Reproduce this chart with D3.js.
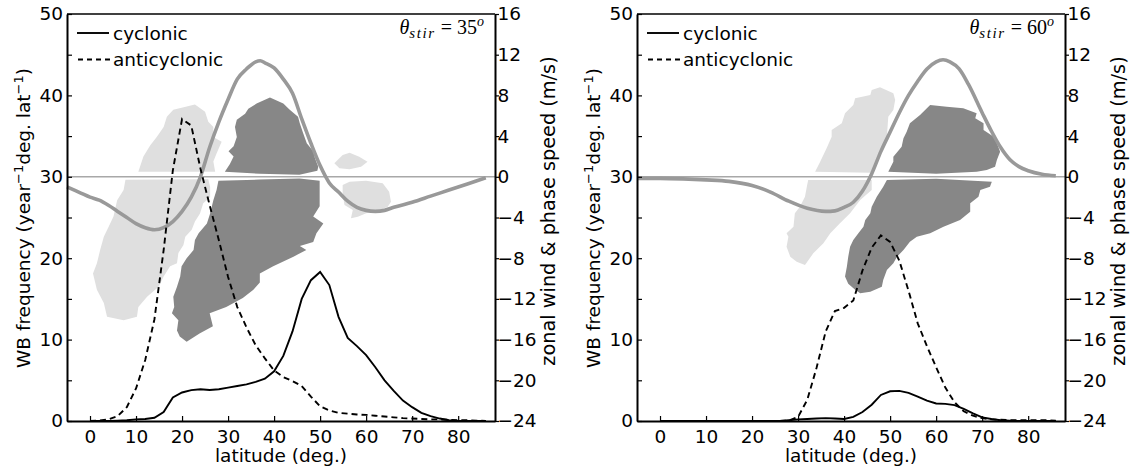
<!DOCTYPE html>
<html>
<head>
<meta charset="utf-8">
<script src="https://cdn.jsdelivr.net/npm/d3@7"></script>
<style>
  body { margin: 0; background: #fff; }
  svg { display: block; }
  text { font-family: "DejaVu Sans", sans-serif; }
</style>
</head>
<body>
<svg id="chart" width="1132" height="472"></svg>
<script>
// ---------------------------------------------------------------
// Latitude grid of the wave-breaking frequency profiles (deg.)
const latWB = [0, 2, 4, 6, 8, 10, 12, 14, 16, 18, 20, 22, 24, 26, 28, 30, 32, 34, 36, 38, 40, 42,
               44, 46, 48, 50, 52, 54, 56, 58, 60, 62, 64, 66, 68, 70, 72, 74, 76, 78, 80, 82, 84, 86];

// theta_stir = 35 : WB frequency (year^-1 deg. lat^-1)
const cyclonic35 = [0, 0, 0, 0.05, 0.1, 0.2, 0.25, 0.4, 1.1, 2.9, 3.5, 3.8, 3.9, 3.8, 3.9, 4.1, 4.3, 4.5, 4.8, 5.2, 6.1, 8.0,
                    11.0, 15.0, 17.3, 18.3, 16.7, 12.8, 10.2, 9.2, 8.1, 6.6, 5.0, 3.7, 2.5, 1.7, 1.0, 0.6, 0.3, 0.1, 0, 0, 0, 0];
const anticyclonic35 = [0, 0.05, 0.2, 0.6, 1.7, 4.0, 7.5, 12.5, 21.0, 30.8, 37.1, 36.3, 31.0, 26.5, 22.2, 17.7, 14.0, 11.5, 9.3, 7.7, 6.2, 5.4,
                        4.9, 4.3, 3.0, 1.8, 1.3, 1.0, 0.9, 0.8, 0.75, 0.65, 0.55, 0.45, 0.35, 0.3, 0.25, 0.2, 0.2, 0.15, 0.1, 0.1, 0.05, 0];

// theta_stir = 60 : WB frequency
const cyclonic60 = [0, 0, 0, 0, 0, 0, 0, 0, 0, 0, 0, 0, 0, 0, 0.1, 0.2, 0.25, 0.3, 0.35, 0.3, 0.25, 0.5,
                    1.1, 2.0, 3.2, 3.65, 3.7, 3.45, 3.0, 2.5, 2.15, 2.1, 1.95, 1.5, 0.95, 0.45, 0.25, 0.1, 0.05, 0, 0, 0, 0, 0];
const anticyclonic60 = [0, 0, 0, 0, 0, 0, 0, 0, 0, 0, 0, 0, 0, 0, 0.05, 0.5, 2.6, 6.5, 11.0, 13.5, 13.9, 14.8,
                        18.5, 21.3, 22.8, 22.0, 19.7, 16.0, 12.0, 9.2, 6.6, 4.1, 2.3, 1.2, 0.65, 0.35, 0.2, 0.15, 0.1, 0.1, 0.1, 0.1, 0.1, 0.05];

// Zonal-mean zonal wind (m/s)
const windLat35 = [-5, -2, 0, 2, 4, 6, 8, 10, 12, 14, 16, 18, 20, 22, 24, 26, 28, 30, 32, 34, 36, 37, 38, 40, 42,
                   44, 46, 48, 50, 52, 54, 56, 58, 60, 62, 64, 66, 70, 74, 78, 82, 86];
const wind35 = [-1.0, -1.6, -2.0, -2.3, -2.8, -3.4, -4.0, -4.6, -5.0, -5.2, -5.0, -4.4, -3.4, -2.0, 0.0, 2.9, 5.4, 7.6, 9.6, 10.6, 11.3, 11.4, 11.2, 10.7, 9.6,
                8.2, 5.7, 3.3, 1.1, -0.6, -1.5, -2.4, -3.0, -3.3, -3.4, -3.3, -3.0, -2.5, -1.9, -1.3, -0.7, -0.1];
const windLat60 = [-5, 0, 5, 10, 15, 20, 24, 28, 32, 36, 38, 40, 42, 44, 46, 48, 50, 52, 54, 56, 58, 60, 61.5,
                   63, 65, 67, 70, 72, 74, 76, 78, 80, 83, 86];
const wind60 = [-0.15, -0.15, -0.2, -0.3, -0.45, -0.85, -1.5, -2.4, -3.1, -3.4, -3.35, -3.0, -2.5, -1.4, 0.3, 2.5, 4.4, 6.3, 8.0, 9.4, 10.6, 11.3, 11.5,
                11.3, 10.6, 9.1, 6.3, 4.5, 2.9, 1.7, 1.0, 0.6, 0.25, 0.1];

// Phase-speed / latitude regions of wave breaking: [latitude, phase speed (m/s)]
const anticycUpper35 = [[10.5, 0.5], [11.6, 2.0], [13.1, 3.1], [14.5, 3.9], [16.0, 4.9], [16.7, 5.9], [18.1, 6.6], [22.8, 7.1], [25.0, 6.4],
  [25.7, 5.4], [26.8, 4.9], [26.8, 3.9], [28.6, 3.45], [27.5, 2.3], [26.8, 1.5], [27.2, 0.5]];
const anticycLower35 = [[7.7, -0.3], [7.3, -1.3], [5.9, -2.3], [5.1, -3.9], [4.05, -4.9], [3.0, -5.9], [2.2, -7.2], [1.5, -8.5], [0.65, -9.5],
  [1.5, -11.1], [3.0, -12.4], [3.7, -13.75], [7.3, -14.1], [10.2, -13.75], [10.5, -12.8], [12.4, -11.8], [14.9, -10.8], [16.0, -9.8],
  [17.4, -8.8], [18.9, -8.5], [19.2, -7.5], [20.3, -6.7], [20.7, -5.9], [22.1, -5.2], [22.8, -4.4], [23.9, -3.6], [24.6, -2.6],
  [26.1, -2.0], [26.1, -1.0], [25.7, -0.25]];
const anticycSmallUpper35 = [[53.1, 1.33], [54.9, 2.14], [56.4, 2.37], [58.5, 1.98], [60.3, 1.48], [58.9, 0.99], [56.4, 0.74], [54.2, 0.84]];
const anticycSmallLower35 = [[54.9, -0.81], [56.4, -0.48], [60.0, -0.38], [63.6, -0.64], [65.0, -1.46], [65.4, -2.45], [64.7, -2.94],
  [62.2, -3.43], [60.0, -3.59], [58.2, -3.92], [56.7, -4.08], [57.1, -3.26], [55.3, -2.77], [54.9, -1.79]];
const cycUpper35 = [[29.3, 0.5], [30.4, 1.25], [31.2, 2.0], [30.1, 2.5], [31.2, 3.0], [31.9, 3.9], [31.5, 4.9], [31.9, 5.6], [33.7, 6.2],
  [34.4, 6.7], [36.2, 7.2], [39.1, 7.8], [42.0, 7.2], [43.4, 6.6], [45.2, 5.9], [45.6, 5.25], [46.3, 4.3], [47.1, 3.3], [48.5, 2.5],
  [48.9, 1.8], [49.6, 1.0], [49.4, 0.6], [45.5, 0.2], [36.9, 0.3]];
const cycLower35 = [[27.9, -0.4], [27.5, -1.3], [26.8, -2.3], [26.1, -3.6], [25.4, -4.6], [23.6, -5.55], [22.8, -6.2], [22.5, -7.2],
  [21.0, -8.0], [19.9, -8.8], [19.6, -9.8], [18.9, -10.8], [18.1, -11.8], [18.3, -12.8], [17.8, -13.4], [19.2, -14.1], [18.9, -15.1],
  [19.5, -15.7], [21.0, -16.2], [23.8, -15.4], [26.7, -14.7], [26.0, -13.4], [29.6, -12.8], [33.2, -11.9], [35.5, -11.1], [36.9, -10.4],
  [36.9, -9.5], [39.8, -8.8], [44.2, -7.85], [47.0, -7.2], [45.6, -6.8], [48.5, -6.4], [49.2, -5.55], [50.7, -4.6], [48.5, -3.9],
  [49.9, -2.9], [49.9, -1.3], [49.9, -0.4], [45.5, -0.17], [36.9, -0.27]];

const anticycUpper60 = [[33.7, 0.5], [34.8, 1.48], [36.2, 2.8], [37.3, 3.94], [37.3, 4.6], [39.5, 5.26], [40.2, 6.24], [42.0, 7.06],
  [42.4, 7.71], [45.7, 8.04], [46.0, 8.53], [47.8, 8.8], [50.7, 8.2], [51.1, 7.55], [50.7, 6.57], [49.6, 5.9], [49.3, 3.94], [48.5, 2.96],
  [47.8, 1.98], [46.4, 0.99], [45.7, 0.4], [40.0, 0.45]];
const anticycLower60 = [[32.2, -0.31], [46.0, -0.31], [46.0, -1.3], [43.5, -2.28], [41.3, -3.59], [39.1, -4.57], [37.0, -5.55],
  [35.5, -6.54], [33.3, -7.52], [31.5, -8.67], [29.7, -8.34], [28.3, -7.85], [27.5, -6.87], [27.9, -5.89], [27.5, -5.55], [29.0, -4.9],
  [29.3, -3.59], [30.4, -2.94], [31.5, -1.96], [31.9, -0.97]];
const cycUpper60 = [[49.6, 0.5], [50.7, 1.48], [50.7, 1.98], [52.5, 2.96], [52.9, 3.78], [53.6, 4.43], [54.3, 5.26], [56.5, 6.07],
  [58.7, 7.06], [62.3, 6.89], [65.9, 6.73], [68.8, 6.24], [68.5, 5.75], [70.3, 5.26], [70.3, 4.6], [72.5, 3.94], [73.2, 3.29],
  [73.9, 2.47], [73.2, 1.65], [72.8, 0.99], [71.0, 0.67], [68.8, 0.5], [60.0, 0.3]];
const cycLower60 = [[49.3, -0.31], [60.0, -0.2], [72.1, -0.48], [71.7, -0.97], [69.6, -1.3], [69.2, -1.96], [67.4, -2.6], [67.4, -3.43],
  [65.2, -4.25], [61.6, -4.9], [58.7, -5.55], [55.8, -5.89], [54.3, -6.38], [52.9, -7.19], [51.5, -7.85], [50.7, -8.5], [49.3, -9.16],
  [48.5, -10.14], [48.2, -10.8], [45.7, -11.3], [43.5, -11.45], [42.4, -11.1], [40.9, -10.5], [40.2, -9.8], [40.6, -8.84],
  [40.9, -7.85], [41.3, -6.87], [42.0, -6.2], [43.1, -5.55], [44.2, -4.9], [44.6, -4.25], [45.7, -3.59], [46.0, -2.94],
  [47.1, -1.96], [48.5, -0.97]];

// Axis ticks
const xTicks = [0, 10, 20, 30, 40, 50, 60, 70, 80];
const leftTicks = [0, 5, 10, 15, 20, 25, 30, 35, 40, 45, 50];
const rightTicks = [-24, -20, -16, -12, -8, -4, 0, 4, 8, 12, 16];
const legendLabels = ["cyclonic", "anticyclonic"];

// ---------------------------------------------------------------
const panels = [
  { theta: 35, left: 67, cyc: cyclonic35, anti: anticyclonic35, windLat: windLat35, wind: wind35,
    light: [anticycUpper35, anticycLower35, anticycSmallUpper35, anticycSmallLower35], dark: [cycUpper35, cycLower35] },
  { theta: 60, left: 637, cyc: cyclonic60, anti: anticyclonic60, windLat: windLat60, wind: wind60,
    light: [anticycUpper60, anticycLower60], dark: [cycUpper60, cycLower60] }
];

const W = 428, TOP = 14, BOTTOM = 421;
const FS = "18.5px";
const svg = d3.select("#chart");

panels.forEach(p => {
  const x = d3.scaleLinear().domain([-5, 88]).range([p.left, p.left + W]);
  const yL = d3.scaleLinear().domain([0, 50]).range([BOTTOM, TOP]);
  const yR = d3.scaleLinear().domain([-24, 16]).range([BOTTOM, TOP]);
  const right = p.left + W;
  const g = svg.append("g");

  // shaded regions (phase speed vs latitude)
  const shape = d3.line().x(d => x(d[0])).y(d => yR(d[1]));
  p.light.forEach(poly => g.append("path").attr("d", shape(poly) + "Z").attr("fill", "#dfdfdf"));
  p.dark.forEach(poly => g.append("path").attr("d", shape(poly) + "Z").attr("fill", "#878787"));

  // zero phase speed reference
  g.append("line").attr("x1", p.left).attr("x2", right).attr("y1", yR(0)).attr("y2", yR(0))
    .attr("stroke", "#a8a8a8").attr("stroke-width", 1.4);

  // zonal wind
  const windPts = p.windLat.map((la, i) => [la, p.wind[i]]);
  g.append("path").attr("d", d3.line().x(d => x(d[0])).y(d => yR(d[1])).curve(d3.curveMonotoneX)(windPts))
    .attr("fill", "none").attr("stroke", "#999999").attr("stroke-width", 3.6).attr("stroke-linejoin", "round");

  // WB frequency profiles
  const freq = d3.line().x((d, i) => x(latWB[i])).y(d => yL(d));
  g.append("path").attr("d", freq(p.cyc)).attr("fill", "none").attr("stroke", "#000").attr("stroke-width", 1.9);
  g.append("path").attr("d", freq(p.anti)).attr("fill", "none").attr("stroke", "#000").attr("stroke-width", 1.9)
    .attr("stroke-dasharray", "6,4");

  // axes
  const styleAxis = sel => {
    sel.selectAll("text").style("font-family", "'DejaVu Sans', sans-serif").style("font-size", FS).attr("fill", "#000");
    sel.select(".domain").attr("stroke", "#000").attr("stroke-width", 2);
    sel.selectAll(".tick line").attr("stroke", "#000").attr("stroke-width", 1.2);
  };
  g.append("g").attr("transform", `translate(${p.left},0)`)
    .call(d3.axisLeft(yL).tickValues(leftTicks).tickSize(-5).tickSizeOuter(0).tickPadding(4)
      .tickFormat(d => d % 10 === 0 ? d : ""))
    .call(styleAxis);
  g.append("g").attr("transform", `translate(0,${BOTTOM})`)
    .call(d3.axisBottom(x).tickValues(xTicks).tickSize(-5).tickSizeOuter(0).tickPadding(9))
    .call(styleAxis);
  g.append("g").attr("transform", `translate(${right},0)`)
    .call(d3.axisRight(yR).tickValues(rightTicks).tickSize(4).tickSizeOuter(0).tickPadding(-1.5))
    .call(styleAxis);
  g.append("line").attr("x1", p.left).attr("x2", right).attr("y1", TOP).attr("y2", TOP)
    .attr("stroke", "#000").attr("stroke-width", 1.6);

  // legend
  const leg = g.append("g");
  leg.append("line").attr("x1", p.left + 10).attr("x2", p.left + 42).attr("y1", 33).attr("y2", 33)
    .attr("stroke", "#000").attr("stroke-width", 1.9);
  leg.append("line").attr("x1", p.left + 11).attr("x2", p.left + 43).attr("y1", 59.5).attr("y2", 59.5)
    .attr("stroke", "#000").attr("stroke-width", 1.9).attr("stroke-dasharray", "5,4");
  leg.selectAll("text").data(legendLabels).join("text")
    .attr("x", p.left + 46).attr("y", (d, i) => 39.5 + i * 26)
    .style("font-size", FS).text(d => d);

  // theta_stir annotation
  const ann = g.append("text").attr("x", right - 11).attr("y", 34).attr("text-anchor", "end")
    .style("font-family", "'Liberation Serif', serif").style("font-size", "20px");
  ann.append("tspan").style("font-style", "italic").text("θ");
  ann.append("tspan").style("font-style", "italic").style("font-size", "15px").attr("dy", 4)
    .attr("letter-spacing", 1.6).text("stir");
  ann.append("tspan").attr("dy", -4).text(" = " + p.theta);
  ann.append("tspan").style("font-style", "italic").style("font-size", "14px").attr("dy", -8).text("o");

  // axis titles
  const yl = g.append("text").attr("transform", `translate(${p.left - 37},218) rotate(-90)`)
    .attr("text-anchor", "middle").style("font-size", FS);
  yl.append("tspan").text("WB frequency (year");
  yl.append("tspan").attr("dy", -7).style("font-size", "13px").text("−1");
  yl.append("tspan").attr("dy", 7).text("deg. lat");
  yl.append("tspan").attr("dy", -7).style("font-size", "13px").text("−1");
  yl.append("tspan").attr("dy", 7).text(")");

  g.append("text").attr("transform", `translate(${right + 60},211) rotate(-90)`)
    .attr("text-anchor", "middle").style("font-size", "19.3px").text("zonal wind & phase speed (m/s)");

  g.append("text").attr("x", p.left + W / 2).attr("y", 462).attr("text-anchor", "middle")
    .style("font-size", FS).text("latitude (deg.)");
});
</script>
</body>
</html>
